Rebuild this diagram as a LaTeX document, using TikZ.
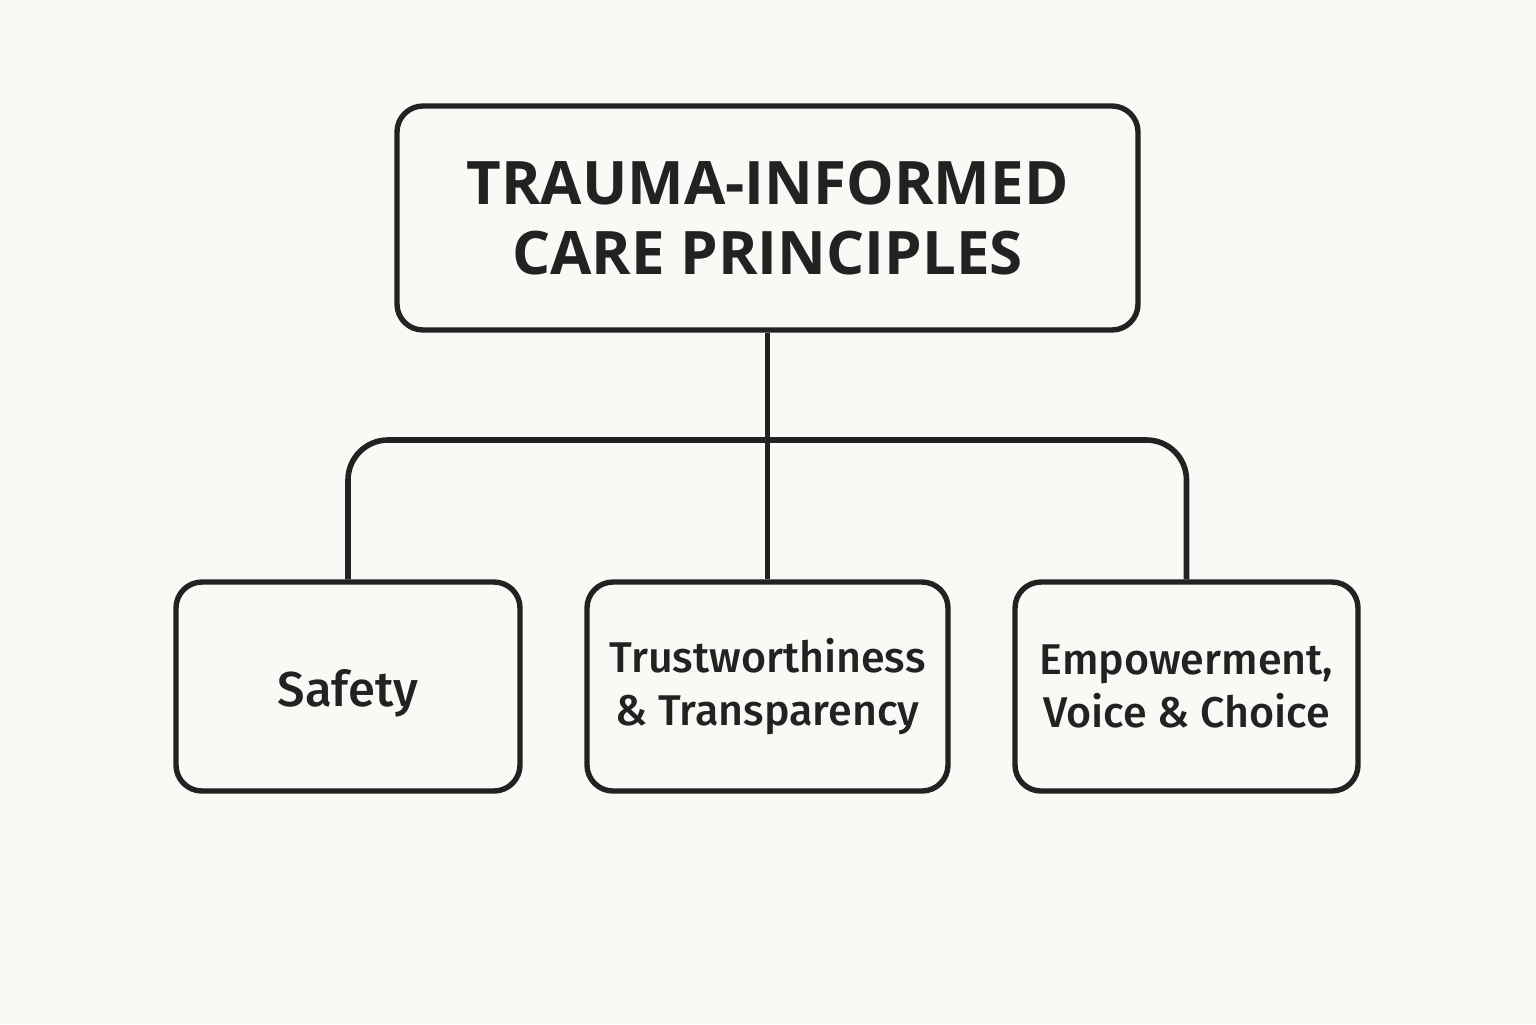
\documentclass[tikz,border=0pt]{standalone}
\usepackage{fontspec}
\setmainfont{Open Sans}
\newfontfamily\boxfont{Fira Sans Medium}
\definecolor{bg}{HTML}{FAF9F6}
\definecolor{ink}{HTML}{222222}
\begin{document}
\begin{tikzpicture}[x=0.5pt,y=-0.5pt,
  box/.style={draw=ink,line width=2.7pt,rounded corners=13pt,fill=bg,align=center,text=ink,inner sep=0pt},
  small/.style={box,minimum height=104.5pt,font=\boxfont\fontsize{21.5}{26.5}\selectfont},
  conn/.style={draw=ink,line width=2.8pt}]
\fill[bg] (0,0) rectangle (1536,1024);
\useasboundingbox (0,0) rectangle (1536,1024);
\node[box,minimum width=370.5pt,minimum height=112pt,font=\bfseries\fontsize{30}{35}\selectfont] (top) at (767.5,218) {TRAUMA-INFORMED\\CARE PRINCIPLES};
\node[small,minimum width=172pt,font=\boxfont\fontsize{24.5}{28}\selectfont] (safe) at (348,686.5) {\rule{0pt}{25pt}Safety};
\node[small,minimum width=180.5pt] (trust) at (767.5,686.5) {Trustworthiness\\\& Transparency};
\node[small,minimum width=171.5pt] (emp) at (1186.5,686.5) {Empowerment,\\Voice \& Choice};
\coordinate (hub) at (767.5,440);
\draw[conn] (top.south) -- (trust.north);
\draw[conn,rounded corners=20pt] (safe.north) -- (safe.north |- hub) -- (emp.north |- hub) -- (emp.north);
\end{tikzpicture}
\end{document}
